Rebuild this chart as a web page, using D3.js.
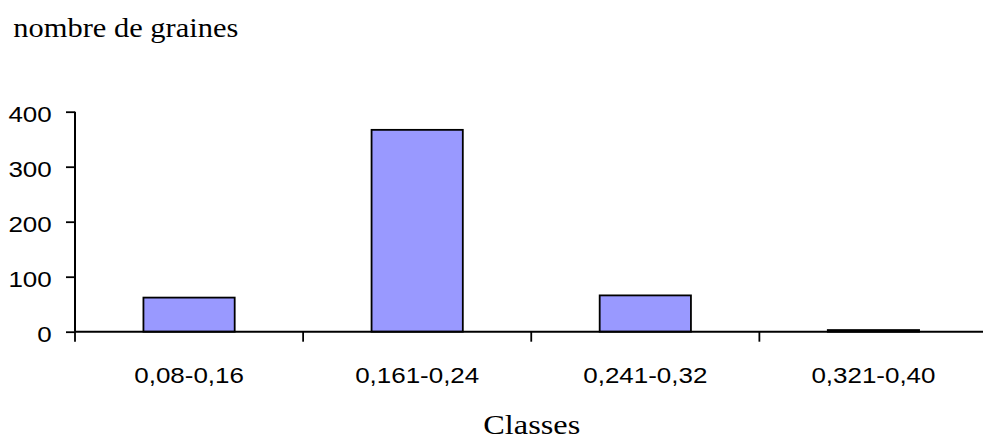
<!DOCTYPE html>
<html><head><meta charset="utf-8">
<script src="https://cdn.jsdelivr.net/npm/d3@7"></script>
<style>body{margin:0;background:#fff}</style>
</head><body>
<svg id="c" width="983" height="440"></svg>
<script>
const categories = ["0,08-0,16", "0,161-0,24", "0,241-0,32", "0,321-0,40"];
const values = [62, 367, 66, 3];
const yTicks = [0, 100, 200, 300, 400];
const yTitle = "nombre de graines";
const xTitle = "Classes";

const svg = d3.select("#c");
const x0 = 75, x1 = 987.5, yTop = 111.7, yBase = 331.7;
const sx = 1.18;
const xb = d3.scaleBand().domain(categories).range([x0, x1]);
const y = d3.scaleLinear().domain([0, 400]).range([yBase, yTop]);

// bars
svg.selectAll("rect.bar").data(values).join("rect")
  .attr("class", "bar")
  .attr("x", (d, i) => xb(categories[i]) + xb.bandwidth() * 0.3)
  .attr("width", xb.bandwidth() * 0.4)
  .attr("y", d => y(d))
  .attr("height", d => yBase - y(d))
  .attr("fill", "#9999ff").attr("stroke", "#000").attr("stroke-width", 1.8);

// y axis
const ya = svg.append("g").attr("transform", `translate(${x0},0)`)
  .call(d3.axisLeft(y).tickValues(yTicks).tickSize(9).tickFormat(d3.format("d")));
ya.select(".domain").attr("d", `M0,${yTop}V${yBase}`).attr("stroke-width", 2);
ya.selectAll(".tick line").attr("stroke-width", 1.8);
ya.selectAll("text")
  .attr("font-family", "Liberation Sans, Arial, sans-serif").attr("font-size", 22).attr("fill", "#000")
  .attr("x", -23.3 / sx).attr("dy", null).attr("y", 9.5)
  .attr("transform", `scale(${sx},1)`);

// x axis
const xa = svg.append("g").attr("transform", `translate(0,${yBase})`)
  .call(d3.axisBottom(xb).tickSize(0));
xa.select(".domain").attr("d", `M${x0},0H${x1}`).attr("stroke-width", 2);
xa.selectAll("text")
  .attr("font-family", "Liberation Sans, Arial, sans-serif").attr("font-size", 22).attr("fill", "#000")
  .attr("dy", null).attr("y", 382.7 - yBase)
  .attr("transform", `scale(${sx},1)`);
// category separator ticks
svg.selectAll("line.sep").data(d3.range(categories.length + 1)).join("line")
  .attr("class", "sep")
  .attr("x1", i => x0 + i * xb.step()).attr("x2", i => x0 + i * xb.step())
  .attr("y1", yBase).attr("y2", yBase + 10)
  .attr("stroke", "#000").attr("stroke-width", 1.8);

svg.append("text").attr("x", 13.3).attr("y", 36.7)
  .attr("font-family", "Liberation Serif, Times New Roman, serif").attr("font-size", 26.5)
  .attr("textLength", 225).attr("lengthAdjust", "spacingAndGlyphs")
  .text(yTitle);
svg.append("text").attr("x", 483.3).attr("y", 433.5)
  .attr("font-family", "Liberation Serif, Times New Roman, serif").attr("font-size", 28)
  .attr("textLength", 97).attr("lengthAdjust", "spacingAndGlyphs")
  .text(xTitle);
</script>
</body></html>
